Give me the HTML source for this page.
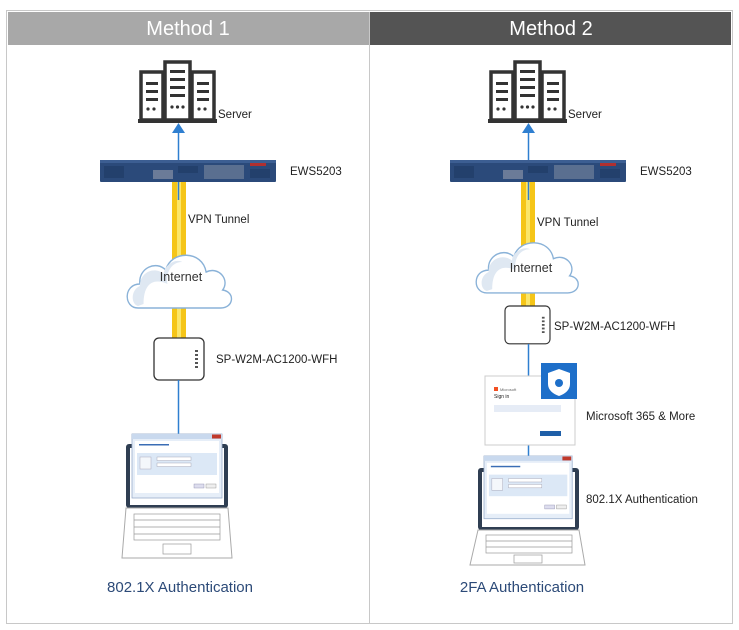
<!DOCTYPE html>
<html><head><meta charset="utf-8"><style>
html,body{margin:0;padding:0;background:#fff;}
svg{display:block;font-family:"Liberation Sans",sans-serif;}
</style></head><body>
<svg width="739" height="630" viewBox="0 0 739 630" xmlns="http://www.w3.org/2000/svg">
<defs>
 <g id="server">
  <rect x="0" y="12" width="22" height="48" fill="#fff" stroke="#333" stroke-width="3.5"/>
  <rect x="51" y="12" width="22" height="48" fill="#fff" stroke="#333" stroke-width="3.5"/>
  <rect x="24" y="2" width="25" height="58" fill="#fff" stroke="#333" stroke-width="3.5"/>
  <g fill="#333">
   <rect x="5" y="22" width="12" height="3"/><rect x="5" y="30" width="12" height="3"/><rect x="5" y="38" width="12" height="3"/>
   <rect x="56" y="22" width="12" height="3"/><rect x="56" y="30" width="12" height="3"/><rect x="56" y="38" width="12" height="3"/>
   <rect x="29" y="10" width="15" height="3"/><rect x="29" y="18" width="15" height="3"/><rect x="29" y="26" width="15" height="3"/><rect x="29" y="34" width="15" height="3"/>
   <circle cx="7" cy="49" r="1.6"/><circle cx="13" cy="49" r="1.6"/>
   <circle cx="58" cy="49" r="1.6"/><circle cx="64" cy="49" r="1.6"/>
   <circle cx="31" cy="47" r="1.6"/><circle cx="36.5" cy="47" r="1.6"/><circle cx="42" cy="47" r="1.6"/>
   <rect x="-3" y="59" width="79" height="4"/>
  </g>
 </g>
 <g id="switch">
  <rect x="0" y="0" width="176" height="22" rx="1" fill="#2b4a7a"/>
  <rect x="0" y="0" width="176" height="3" fill="#3c5e92"/>
  <rect x="4" y="6" width="20" height="12" fill="#23406c"/>
  <rect x="150" y="9" width="20" height="9" fill="#23406c"/>
  <rect x="78" y="6" width="20" height="7" fill="#23406c"/>
  <rect x="104" y="5" width="40" height="14" fill="#5a6f90"/>
  <rect x="53" y="10" width="20" height="9" fill="#6b7b98"/>
  <rect x="150" y="3" width="16" height="3" fill="#b03030"/>
 </g>
 <g id="cloud">
  <path d="M12 62 C-4 62 -4 38 14 38 C12 22 32 14 42 24 C48 4 82 4 86 26 C100 20 112 34 104 44 C118 46 116 62 102 62 Z" fill="#fff" stroke="#8ab2d8" stroke-width="1.5"/>
  <path d="M14 40 C14 26 30 20 40 28 C40 20 52 12 60 16 C46 16 42 30 44 38 C30 32 18 36 18 58 L12 60 C4 58 4 44 14 40Z" fill="#dfe8f2"/>
 </g>
 <g id="dialog">
  <rect x="0" y="0" width="90" height="64" fill="#e6eef8" stroke="#9aaecc" stroke-width="0.8"/>
  <rect x="0" y="0" width="90" height="5" fill="#c9d9ee"/>
  <rect x="80" y="0.5" width="9" height="4" fill="#c0392b"/>
  <rect x="3" y="7" width="84" height="52" fill="#fff"/>
  <rect x="5" y="19" width="80" height="22" fill="#dce8f6"/>
  <rect x="8" y="23" width="11" height="12" fill="#f4f7fb" stroke="#aab" stroke-width="0.5"/>
  <rect x="25" y="23" width="34" height="3.5" fill="#fff" stroke="#99a" stroke-width="0.4"/>
  <rect x="25" y="29" width="34" height="3.5" fill="#fff" stroke="#99a" stroke-width="0.4"/>
  <rect x="62" y="50" width="10" height="4" fill="#dde" stroke="#88a" stroke-width="0.4"/>
  <rect x="74" y="50" width="10" height="4" fill="#eee" stroke="#888" stroke-width="0.4"/>
  <rect x="7" y="10" width="30" height="1.5" fill="#3a6db5"/>
 </g>
 <g id="router">
  <rect x="0" y="0" width="50" height="42" rx="5" fill="#fff" stroke="#333" stroke-width="1.3"/>
  <g fill="#555"><rect x="41" y="12" width="3" height="2"/><rect x="41" y="16" width="3" height="2"/><rect x="41" y="20" width="3" height="2"/><rect x="41" y="24" width="3" height="2"/><rect x="41" y="28" width="3" height="2"/></g>
 </g>
</defs>

<rect x="6.5" y="10.5" width="726" height="613" fill="#fff" stroke="#c8c8c8"/>
<rect x="8" y="12" width="361" height="33" fill="#a8a8a8"/>
<rect x="369" y="12" width="362" height="33" fill="#545454"/>
<line x1="369.5" y1="12" x2="369.5" y2="623" stroke="#c8c8c8"/>
<text x="188" y="35" font-size="20" fill="#fff" text-anchor="middle">Method 1</text>
<text x="551" y="35" font-size="20" fill="#fff" text-anchor="middle">Method 2</text>

<!-- Left -->
<rect x="172" y="182" width="14" height="156" fill="#f5c518"/>
<rect x="177" y="182" width="4" height="156" fill="#fbe66a"/>
<line x1="178.5" y1="130" x2="178.5" y2="200" stroke="#2f7fd0" stroke-width="1.5"/>
<path d="M172 133 L178.5 123 L185 133 Z" fill="#2f7fd0"/>
<use href="#server" x="141" y="60"/>
<text x="218" y="118" font-size="11.5" fill="#222">Server</text>
<use href="#switch" x="100" y="160"/>
<text x="290" y="175" font-size="11.5" fill="#222">EWS5203</text>
<text x="188" y="223" font-size="11.5" fill="#222">VPN Tunnel</text>
<use href="#cloud" transform="translate(127 246) scale(0.92 1)"/>
<text x="181" y="281" font-size="12.5" fill="#333" text-anchor="middle">Internet</text>
<use href="#router" x="154" y="338"/>
<text x="216" y="363" font-size="11.5" fill="#222">SP-W2M-AC1200-WFH</text>
<line x1="178.5" y1="380" x2="178.5" y2="440" stroke="#2f7fd0" stroke-width="1.5"/>
<rect x="126" y="444" width="102" height="64" rx="3" fill="#2f3e52"/>
<rect x="130" y="448" width="94" height="57" fill="#fff"/>
<use href="#dialog" x="132" y="434"/>
<path d="M126 508 L228 508 L232 558 L122 558 Z" fill="#fff" stroke="#aaa"/>
<g fill="none" stroke="#999" stroke-width="0.7">
 <rect x="134" y="514" width="86" height="26"/>
 <line x1="134" y1="520" x2="220" y2="520"/><line x1="134" y1="527" x2="220" y2="527"/><line x1="134" y1="534" x2="220" y2="534"/>
 <rect x="163" y="544" width="28" height="10"/>
</g>
<text x="180" y="592" font-size="15" fill="#2c4a78" text-anchor="middle">802.1X Authentication</text>

<!-- Right -->
<rect x="521" y="182" width="14" height="124" fill="#f5c518"/>
<rect x="526" y="182" width="4" height="124" fill="#fbe66a"/>
<line x1="528.5" y1="130" x2="528.5" y2="200" stroke="#2f7fd0" stroke-width="1.5"/>
<path d="M522 133 L528.5 123 L535 133 Z" fill="#2f7fd0"/>
<use href="#server" x="491" y="60"/>
<text x="568" y="118" font-size="11.5" fill="#222">Server</text>
<use href="#switch" x="450" y="160"/>
<text x="640" y="175" font-size="11.5" fill="#222">EWS5203</text>
<text x="537" y="226" font-size="11.5" fill="#222">VPN Tunnel</text>
<use href="#cloud" transform="translate(476 234) scale(0.9 0.95)"/>
<text x="531" y="272" font-size="12.5" fill="#333" text-anchor="middle">Internet</text>
<use href="#router" transform="translate(505 306) scale(0.9)"/>
<text x="554" y="330" font-size="11.5" fill="#222">SP-W2M-AC1200-WFH</text>
<line x1="528.5" y1="344" x2="528.5" y2="470" stroke="#2f7fd0" stroke-width="1.5"/>
<rect x="485" y="376" width="90" height="69" fill="#fff" stroke="#ccc"/>
<rect x="494" y="387" width="4" height="4" fill="#f25022"/>
<text x="500" y="391" font-size="4" fill="#666">Microsoft</text>
<text x="494" y="398" font-size="5" fill="#222">Sign in</text>
<rect x="494" y="405" width="67" height="7" fill="#e6ecf6"/>
<rect x="540" y="431" width="21" height="5" fill="#1f5fa8"/>
<rect x="541" y="363" width="36" height="36" fill="#1e6fc9"/>
<path d="M559 369 L570 373 L570 384 C570 390 565 394 559 396 C553 394 548 390 548 384 L548 373 Z" fill="#fff"/>
<circle cx="559" cy="383" r="4" fill="#1e6fc9"/>
<text x="586" y="420" font-size="11.5" fill="#222">Microsoft 365 &amp; More</text>
<rect x="478" y="468" width="101" height="62" rx="3" fill="#2f3e52"/>
<rect x="482" y="472" width="93" height="55" fill="#fff"/>
<use href="#dialog" transform="translate(484 456) scale(0.98)"/>
<path d="M478 530 L579 530 L585 565 L470 565 Z" fill="#fff" stroke="#aaa"/>
<g fill="none" stroke="#999" stroke-width="0.7">
 <rect x="486" y="535" width="86" height="18"/>
 <line x1="486" y1="541" x2="572" y2="541"/><line x1="486" y1="547" x2="572" y2="547"/>
 <rect x="514" y="555" width="28" height="8"/>
</g>
<text x="586" y="503" font-size="11.5" fill="#222">802.1X Authentication</text>
<text x="522" y="592" font-size="15" fill="#2c4a78" text-anchor="middle">2FA Authentication</text>
</svg>
</body></html>
